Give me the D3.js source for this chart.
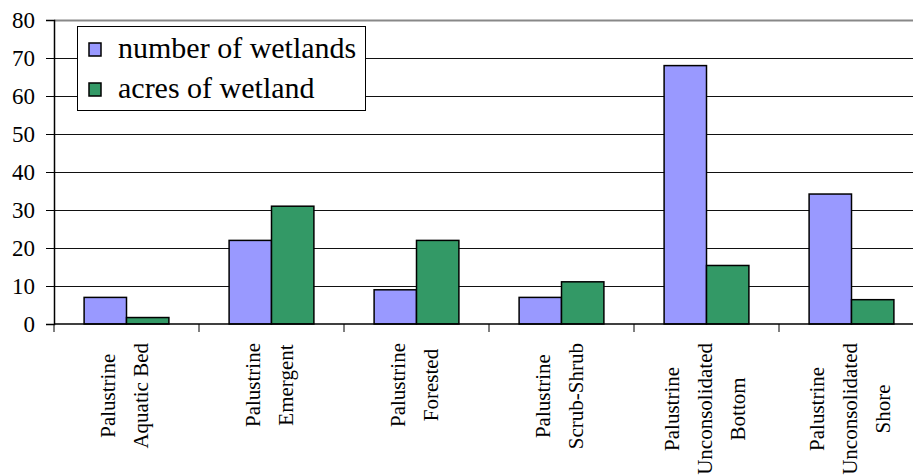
<!DOCTYPE html>
<html>
<head>
<meta charset="utf-8">
<script src="https://d3js.org/d3.v7.min.js"></script>
<style>
  body { margin: 0; background: #fff; }
</style>
</head>
<body>
<div id="chart"></div>
<script>
var categories = [
  ["Palustrine", "Aquatic Bed"],
  ["Palustrine", "Emergent"],
  ["Palustrine", "Forested"],
  ["Palustrine", "Scrub-Shrub"],
  ["Palustrine", "Unconsolidated", "Bottom"],
  ["Palustrine", "Unconsolidated", "Shore"]
];
var seriesNames = ["number of wetlands", "acres of wetland"];
var seriesColors = ["#9999FF", "#339966"];
var numberOfWetlands = [7, 22, 9, 7, 68, 34.2];
var acresOfWetland = [1.7, 31, 22, 11.1, 15.4, 6.4];
var yTicks = [0, 10, 20, 30, 40, 50, 60, 70, 80];

var serif = "Liberation Serif";

var svgWidth = 913;
var svgHeight = 476;

var margin = { top: 20, right: -11, bottom: 152, left: 54 };
var width = svgWidth - margin.left - margin.right;
var height = svgHeight - margin.top - margin.bottom;

var svg = d3.select("#chart")
  .append("svg")
  .attr("width", svgWidth)
  .attr("height", svgHeight)
  .attr("font-family", serif);

var chartGroup = svg.append("g")
  .attr("transform", `translate(${margin.left}, ${margin.top})`);

var catIdx = d3.range(categories.length);

var x0 = d3.scaleBand()
  .domain(catIdx)
  .range([0, width])
  .padding(0);

var x1 = d3.scaleBand()
  .domain([0, 1])
  .range([0, x0.bandwidth()])
  .paddingInner(0)
  .paddingOuter(0.71);

var y = d3.scaleLinear()
  .domain([0, 80])
  .range([height, 0]);

// gridlines
chartGroup.append("g")
  .selectAll("line")
  .data(yTicks.filter(d => d > 0))
  .enter()
  .append("line")
  .attr("x1", 0)
  .attr("x2", width)
  .attr("y1", d => Math.round(y(d)) + 0.5)
  .attr("y2", d => Math.round(y(d)) + 0.5)
  .attr("stroke", d => d === 80 ? "#888" : "#111")
  .attr("stroke-width", d => d === 80 ? 2 : 1);

// bars
var rows = catIdx.map(i => [numberOfWetlands[i], acresOfWetland[i]]);

var groups = chartGroup.selectAll(".cat")
  .data(rows)
  .enter()
  .append("g")
  .attr("transform", (d, i) => `translate(${x0(i)}, 0)`);

groups.selectAll("rect")
  .data(d => d)
  .enter()
  .append("rect")
  .attr("x", (d, j) => x1(j))
  .attr("y", d => y(d))
  .attr("width", x1.bandwidth())
  .attr("height", d => height - y(d))
  .attr("fill", (d, j) => seriesColors[j])
  .attr("stroke", "#000")
  .attr("stroke-width", 1.5);

// y axis
var leftAxis = d3.axisLeft(y)
  .tickValues(yTicks)
  .tickSize(8)
  .tickPadding(11);

var yAxisG = chartGroup.append("g")
  .call(leftAxis)
  .attr("font-family", serif)
  .attr("font-size", 23);
yAxisG.select(".domain").attr("stroke", "#000").attr("stroke-width", 1.5);
yAxisG.selectAll(".tick line").attr("stroke", "#000");
yAxisG.selectAll("text").attr("fill", "#000");

// x axis line and ticks at category boundaries
var xAxisG = chartGroup.append("g")
  .attr("transform", `translate(0, ${height})`);
xAxisG.append("line")
  .attr("x1", 0).attr("x2", width)
  .attr("y1", 0).attr("y2", 0)
  .attr("stroke", "#000")
  .attr("stroke-width", 1.5);
xAxisG.selectAll(".btick")
  .data(catIdx.concat([categories.length]))
  .enter()
  .append("line")
  .attr("x1", i => i < categories.length ? x0(i) : width)
  .attr("x2", i => i < categories.length ? x0(i) : width)
  .attr("y1", 0)
  .attr("y2", 8)
  .attr("stroke", "#000");

// category labels, rotated
var lineGap = 33;
var labelGroups = svg.selectAll(".catLabel")
  .data(categories)
  .enter()
  .append("g")
  .attr("transform", (d, i) => `translate(${margin.left + x0(i) + x0.bandwidth() / 2}, 343) rotate(-90)`);

labelGroups.each(function(lines) {
  var g = d3.select(this);
  var texts = g.selectAll("text")
    .data(lines)
    .enter()
    .append("text")
    .attr("text-anchor", "middle")
    .attr("y", (d, i) => (i - (lines.length - 1) / 2) * lineGap + 5)
    .attr("font-family", serif)
    .attr("font-size", 21)
    .attr("fill", "#000")
    .text(d => d);
  var maxLen = d3.max(texts.nodes(), n => n.getComputedTextLength());
  texts.attr("x", -maxLen / 2);
});

// legend
var legend = svg.append("g");
legend.append("rect")
  .attr("x", 77.5)
  .attr("y", 26.5)
  .attr("width", 288)
  .attr("height", 84)
  .attr("fill", "#fff")
  .attr("stroke", "#000")
  .attr("stroke-width", 1);

var legendItems = legend.selectAll(".item")
  .data(seriesNames)
  .enter()
  .append("g")
  .attr("transform", (d, i) => `translate(0, ${i * 40})`);

legendItems.append("rect")
  .attr("x", 89)
  .attr("y", 43)
  .attr("width", 12)
  .attr("height", 13)
  .attr("fill", (d, i) => seriesColors[i])
  .attr("stroke", "#000")
  .attr("stroke-width", 1.5);

legendItems.append("text")
  .attr("x", 118)
  .attr("y", 58)
  .attr("font-family", serif)
  .attr("font-size", 30)
  .attr("fill", "#000")
  .text(d => d);
</script>
</body>
</html>
